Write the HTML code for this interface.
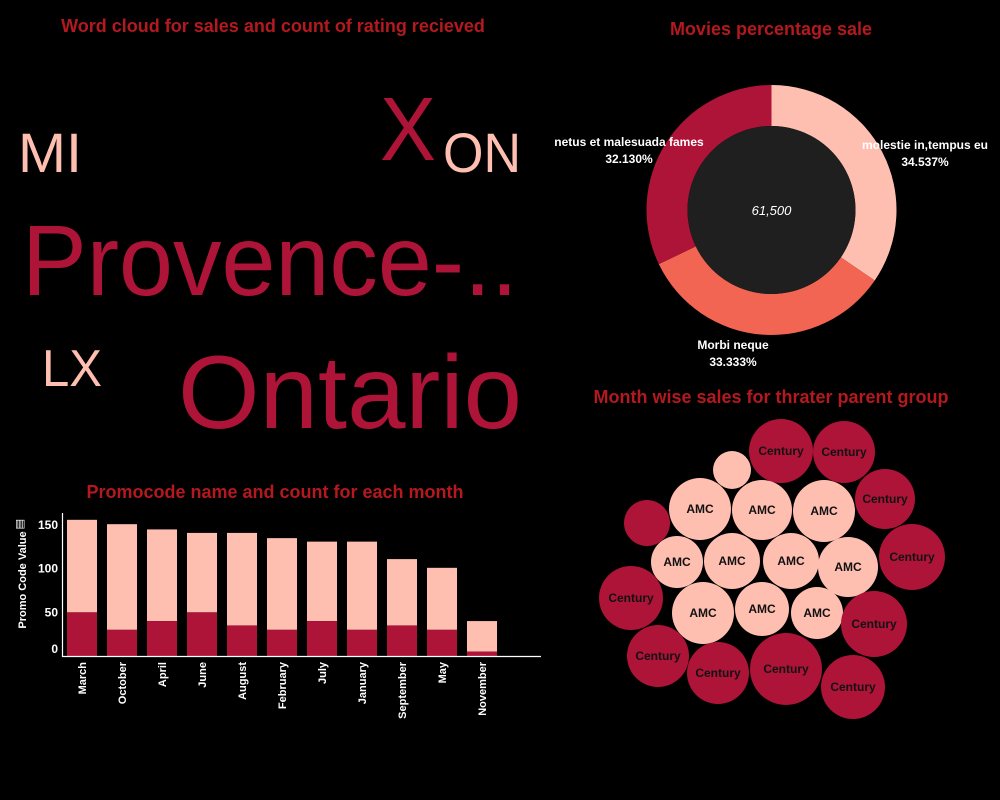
<!DOCTYPE html>
<html><head><meta charset="utf-8"><style>
html,body{margin:0;padding:0;background:#000;width:1000px;height:800px;overflow:hidden}
svg{display:block}
text{font-family:"Liberation Sans","DejaVu Sans",sans-serif}
</style></head><body>
<svg id="root" width="1000" height="800" viewBox="0 0 1000 800">
<rect width="1000" height="800" fill="#000"/>
<g font-weight="bold" font-size="18" fill="#b3191e" text-anchor="middle">
<text x="273" y="32">Word cloud for sales and count of rating recieved</text>
<text x="771" y="35">Movies percentage sale</text>
<text x="771" y="403">Month wise sales for thrater parent group</text>
<text x="275" y="498">Promocode name and count for each month</text>
</g>
<g id="cloud"></g>
<g id="donut"></g>
<g id="bubbles"></g>
<g id="bars"></g>
</svg>
<script>
const NS='http://www.w3.org/2000/svg';
const DARK='#ae1338',PINK='#ffbfb0',CORAL='#f26552';
function mk(tag,attrs,parent,txt){const e=document.createElementNS(NS,tag);for(const k in attrs)e.setAttribute(k,attrs[k]);if(txt!==undefined)e.textContent=txt;parent.appendChild(e);return e;}

// word cloud
const words=['MI','X','ON','Provence-..','LX','Ontario'];
const wordX=[18,380,443,22,42,178];
const wordY=[172,160,172,295,386,428];
const wordSize=[56,90,56,100,52,104];
const wordW=[64,56,78,496,60,344];
const wordDark=[false,true,false,true,false,true];
const cloud=document.getElementById('cloud');
words.forEach((w,i)=>{
  const t=mk('text',{x:wordX[i],y:wordY[i],'font-size':wordSize[i],fill:wordDark[i]?DARK:PINK,textLength:wordW[i],lengthAdjust:'spacingAndGlyphs'},cloud,w);
  
  
});

// donut
const sliceLabels=['molestie in,tempus eu','Morbi neque','netus et malesuada fames'];
const sliceValues=[34.537,33.333,32.130];
const sliceTexts=['34.537%','33.333%','32.130%'];
const sliceColors=[PINK,CORAL,DARK];
const donut=document.getElementById('donut');
const cx=771.5,cy=210,R=125,r0=84;
let acc=0;const tot=sliceValues.reduce((a,b)=>a+b,0);
function pt(a,rr){return [cx+rr*Math.sin(a),cy-rr*Math.cos(a)];}
sliceValues.forEach((v,i)=>{
  const a0=acc/tot*2*Math.PI;acc+=v;const a1=acc/tot*2*Math.PI;
  const lg=(a1-a0)>Math.PI?1:0;
  const [x0,y0]=pt(a0,R),[x1,y1]=pt(a1,R),[x2,y2]=pt(a1,r0),[x3,y3]=pt(a0,r0);
  const p=mk('path',{d:`M${x0},${y0}A${R},${R} 0 ${lg} 1 ${x1},${y1}L${x2},${y2}A${r0},${r0} 0 ${lg} 0 ${x3},${y3}Z`,fill:sliceColors[i]},donut);
  
  
});
mk('circle',{cx:cx,cy:cy,r:r0,fill:'#1f1f1f'},donut);
const ct=mk('text',{x:cx,y:cy+5,'font-size':13,'font-style':'italic',fill:'#fff','text-anchor':'middle'},donut,'61,500');


const labX=[925,733,629],labY=[149,349,146];
sliceLabels.forEach((l,i)=>{
  const g=mk('text',{x:labX[i],y:labY[i],'font-size':12,'font-weight':'bold',fill:'#fff','text-anchor':'middle'},donut);
  
  
  mk('tspan',{x:labX[i],dy:0},g,l);
  mk('tspan',{x:labX[i],dy:17},g,sliceTexts[i]);
});

// bubbles
const bubbleNames=['Century','Century','','Century','AMC','AMC','AMC','','AMC','AMC','AMC','AMC','Century','Century','AMC','AMC','AMC','Century','Century','Century','Century','Century'];
const bubbleGroup=['C','C','A','C','A','A','A','C','A','A','A','A','C','C','A','A','A','C','C','C','C','C'];
const bubbleX=[781,844,732,885,700,762,824,647,677,732,791,848,912,631,703,762,817,874,658,718,786,853];
const bubbleY=[451,452,470,499,509,510,511,523,562,561,561,567,557,598,613,609,613,624,656,673,669,687];
const bubbleR=[32,31,19,30,31,30,31,23,26,28,28,30,33,32,31,27,26,33,31,31,36,32];
const bub=document.getElementById('bubbles');
bubbleNames.forEach((n,i)=>{
  const c=mk('circle',{cx:bubbleX[i],cy:bubbleY[i],r:bubbleR[i],fill:bubbleGroup[i]==='C'?DARK:PINK},bub);
  
  
  if(n){const t=mk('text',{x:bubbleX[i],y:bubbleY[i]+4,'font-size':12,'font-weight':'bold',fill:'#111','text-anchor':'middle'},bub,n);
  
  }
});

// bars
const months=['March','October','April','June','August','February','July','January','September','May','November'];
const totals=[156,151,145,141,141,135,131,131,111,101,40];
const lower=[50,30,40,50,35,30,40,30,35,30,5];
const ticks=[0,50,100,150];
const bars=document.getElementById('bars');
const y0=656,k=0.873;
const ys=v=>y0-v*k;
const xs=i=>67+i*40;
months.forEach((m,i)=>{
  const top=mk('rect',{x:xs(i),y:ys(totals[i]),width:30,height:(totals[i]-lower[i])*k,fill:PINK},bars);
  
  
  const bot=mk('rect',{x:xs(i),y:ys(lower[i]),width:30,height:lower[i]*k,fill:DARK},bars);
  
  
  const t=mk('text',{x:0,y:0,'font-size':11,'font-weight':'bold',fill:'#fff','text-anchor':'end',transform:`translate(${xs(i)+19},${y0+6}) rotate(-90)`},bars,m);
  
  
});
ticks.forEach(v=>{
  const t=mk('text',{x:58,y:ys(v)+(v===0?-3:4),'font-size':12,'font-weight':'bold',fill:'#fff','text-anchor':'end'},bars,String(v));
  
  
});
const ax=mk('path',{d:`M62.5,513V${y0}.5H541`,stroke:'#fff','stroke-width':1.2,fill:'none'},bars);


const yt=mk('text',{x:0,y:0,'font-size':11,'font-weight':'bold',fill:'#fff','text-anchor':'middle',transform:'translate(26,580) rotate(-90)'},bars,'Promo Code Value');


const ic=mk('text',{x:15,y:527,'font-size':11,fill:'#fff'},bars,'▥');


</script>
</body></html>
